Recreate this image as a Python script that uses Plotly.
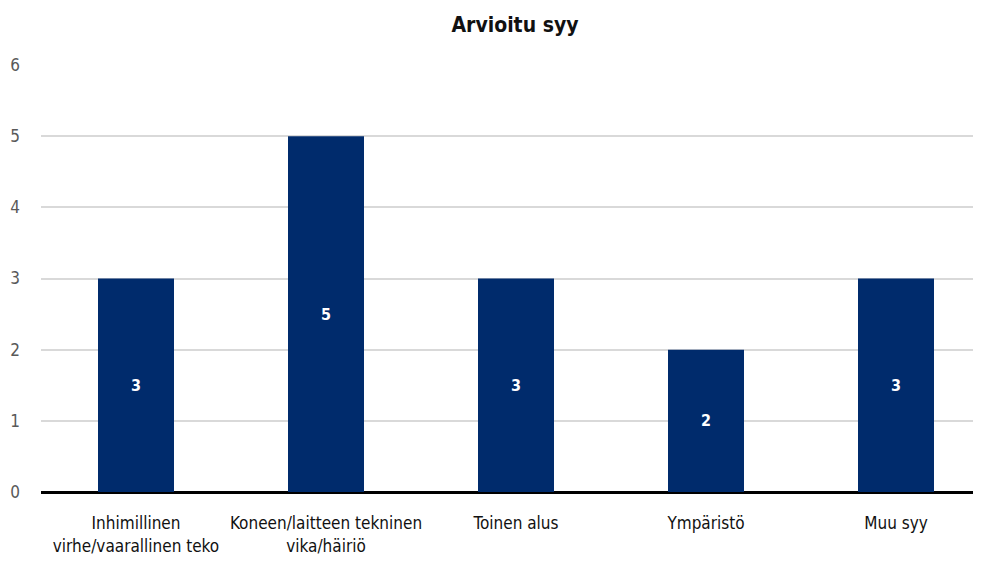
import plotly.graph_objects as go

categories = ["Inhimillinen<br>virhe/vaarallinen teko", "Koneen/laitteen tekninen<br>vika/häiriö",
              "Toinen alus", "Ympäristö", "Muu syy"]
values = [3, 5, 3, 2, 3]
y_ticks = [0, 1, 2, 3, 4, 5, 6]

FONT = "Liberation Sans Narrow, DejaVu Sans Condensed, sans-serif"

fig = go.Figure(go.Bar(
    x=list(range(len(categories))), y=values,
    marker=dict(color="#002b6c", line=dict(width=0)),
    width=0.4,
    text=[str(v) for v in values], textposition="inside", insidetextanchor="middle",
    textfont=dict(color="white", size=16, family=FONT, weight="bold"),
    hoverinfo="skip",
))

fig.update_layout(
    width=981, height=562,
    margin=dict(l=33, r=0, t=57, b=78),
    plot_bgcolor="white", paper_bgcolor="white",
    title=dict(text="<b>Arvioitu syy</b>", x=0.5, xref="paper", y=0.9698, yanchor="middle",
               font=dict(family=FONT, size=21, color="#111111")),
    font=dict(family=FONT, size=17, color="#595959"),
    showlegend=False,
    bargap=0.6,
)
fig.update_xaxes(
    tickmode="array", tickvals=list(range(len(categories))), ticktext=categories,
    range=[-0.5, 4.4895], showgrid=False, showline=False, zeroline=False, automargin=False,
    tickfont=dict(color="#111111", size=17, family=FONT),
    ticks="outside", ticklen=16, tickcolor="rgba(0,0,0,0)",
)
fig.update_yaxes(
    range=[0, 6], tickvals=y_ticks, showgrid=True, gridcolor="#d9d9d9", gridwidth=2,
    zeroline=True, zerolinecolor="black", zerolinewidth=3, showline=False, automargin=False,
    ticklabelstandoff=20, tickfont=dict(color="#595959", size=17, family=FONT),
)

fig.write_html("out.html")
